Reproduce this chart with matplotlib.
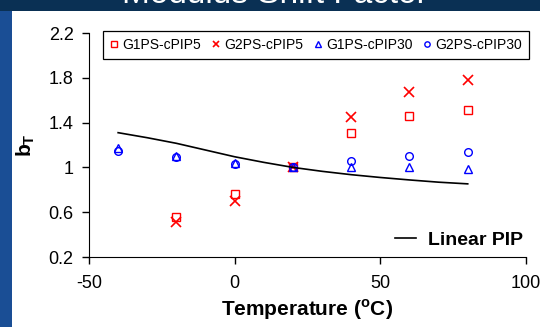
import matplotlib.pyplot as plt
from matplotlib.patches import Rectangle

plt.rcParams['font.family'] = ['Liberation Sans', 'DejaVu Sans']
plt.rcParams['axes.unicode_minus'] = False

# data
temps = [-40, -20, 0, 20, 40, 60, 80]
g1ps_cpip5 = [None, 0.56, 0.76, 1.0, 1.31, 1.46, 1.51]
g2ps_cpip5 = [None, 0.51, 0.70, 1.0, 1.45, 1.67, 1.78]
g1ps_cpip30 = [1.17, 1.10, 1.04, 1.0, 1.0, 1.0, 0.99]
g2ps_cpip30 = [1.15, 1.09, 1.03, 1.0, 1.06, 1.10, 1.14]

line_temps = [-40, -30, -20, -10, 0, 10, 20, 30, 40, 50, 60, 70, 80]
linear_pip = [1.31, 1.265, 1.215, 1.155, 1.095, 1.045, 1.0, 0.965, 0.935, 0.91, 0.888, 0.868, 0.853]

fig = plt.figure(figsize=(5.4, 3.27), dpi=100, facecolor='#1a4e95')

# slide background: white panel, dark top strip with clipped title
fig.patches.append(Rectangle((12 / 540, 0), 1, 1 - 11 / 327, transform=fig.transFigure,
                             facecolor='white', edgecolor='none', zorder=-5))
fig.patches.append(Rectangle((0, 1 - 11 / 327), 1, 11 / 327, transform=fig.transFigure,
                             facecolor='#0a3054', edgecolor='none', zorder=-5))
fig.text(0.509, 1 - 3 / 327, 'Modulus Shift Factor', color='white', fontsize=24,
         ha='center', va='baseline', zorder=-4)

ax = fig.add_axes([89 / 540, 1 - 257 / 327, (526 - 89) / 540, (257 - 33) / 327])
ax.patch.set_alpha(0)

def pts(vals):
    xs = [t for t, v in zip(temps, vals) if v is not None]
    ys = [v for v in vals if v is not None]
    return xs, ys

h1, = ax.plot(*pts(g1ps_cpip5), 's', ms=5.5, mfc='none', mec='red', mew=1.0, ls='none', label='G1PS-cPIP5')
h2, = ax.plot(*pts(g2ps_cpip5), 'x', ms=6.5, color='red', mew=1.2, ls='none', label='G2PS-cPIP5')
h3, = ax.plot(*pts(g1ps_cpip30), '^', ms=5.5, mfc='none', mec='blue', mew=1.0, ls='none', label='G1PS-cPIP30')
h4, = ax.plot(*pts(g2ps_cpip30), 'o', ms=5.5, mfc='none', mec='blue', mew=1.0, ls='none', label='G2PS-cPIP30')
hl, = ax.plot(line_temps, linear_pip, color='black', lw=1.2, label='Linear PIP')

ax.set_xlim(-50, 100)
ax.set_ylim(0.2, 2.2)
ax.set_xticks([-50, 0, 50, 100])
ax.set_yticks([0.2, 0.6, 1.0, 1.4, 1.8, 2.2])
ax.set_yticklabels(['0.2', '0.6', '1', '1.4', '1.8', '2.2'])
ax.spines['top'].set_visible(False)
ax.spines['right'].set_visible(False)
ax.tick_params(direction='out', length=5, width=1, labelsize=13)
ax.tick_params(axis='x', pad=8)
ax.tick_params(axis='y', pad=6)

ax.set_xlabel('Temperature ($^{\\mathregular{o}}$C)', fontsize=15, fontweight='bold', labelpad=4)
ax.set_ylabel('b$_\\mathregular{T}$', fontsize=15, fontweight='bold', labelpad=8)

leg = fig.legend(handles=[h1, h2, h3, h4], loc='upper left', ncol=4,
                 bbox_to_anchor=(103 / 540, 1 - 31 / 327), fontsize=10,
                 frameon=True, fancybox=False, edgecolor='black', framealpha=1,
                 handlelength=0.6, handletextpad=0.3, columnspacing=0.75,
                 markerscale=0.7, borderpad=0.5, borderaxespad=0)
leg.get_frame().set_linewidth(0.9)

leg2 = ax.legend(handles=[hl], loc='lower right', bbox_to_anchor=(1.011, 0.0),
                 borderaxespad=0, frameon=False, handlelength=1.1, handletextpad=0.6,
                 prop={'size': 14, 'weight': 'bold'})

plt.savefig('out.png', dpi=100, facecolor=fig.get_facecolor())
plt.close(fig)
